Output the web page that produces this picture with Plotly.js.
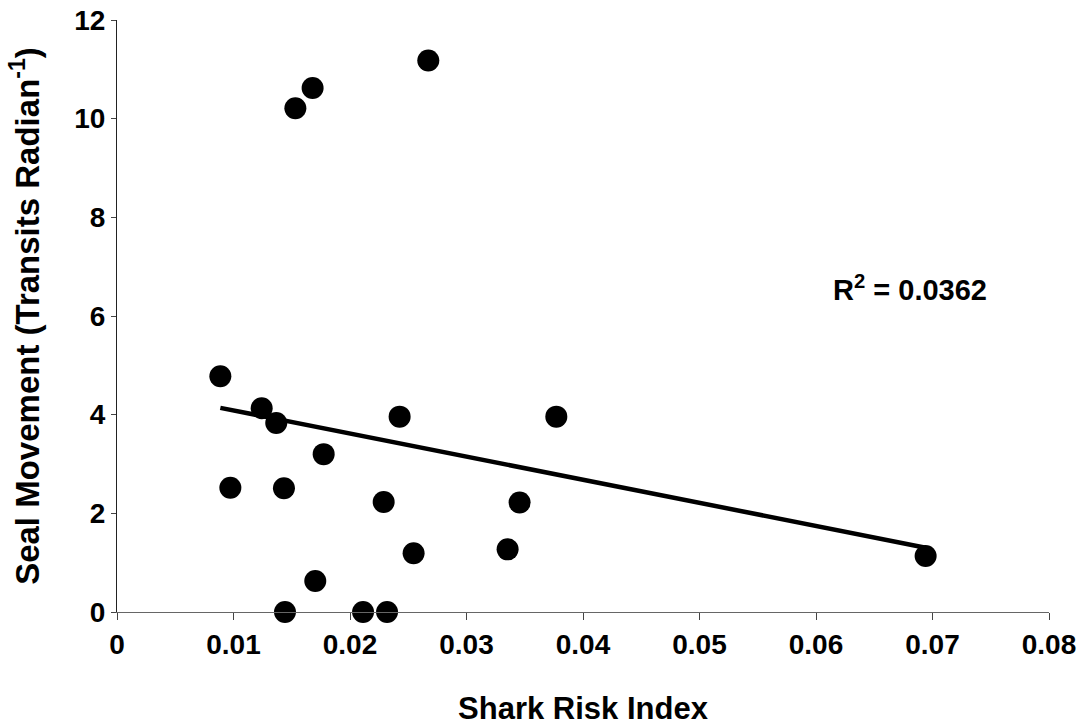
<!DOCTYPE html>
<html>
<head>
<meta charset="utf-8">
<script src="https://cdn.plot.ly/plotly-3.0.1.min.js"></script>
<style>html,body{margin:0;padding:0;background:#fff;}#chart{width:1088px;height:728px;}</style>
</head>
<body>
<div id="chart"></div>
<script>
// Shark Risk Index (x) vs Seal Movement (y)
const sharkRisk = [0.00887, 0.01242, 0.01367, 0.01774, 0.00973, 0.01433, 0.02426, 0.03771, 0.02289, 0.03456,
                   0.02546, 0.03353, 0.01702, 0.01442, 0.02112, 0.02318, 0.01531, 0.01679, 0.02672, 0.06941];
const sealMovement = [4.78, 4.13, 3.83, 3.20, 2.52, 2.51, 3.96, 3.96, 2.23, 2.22,
                      1.19, 1.27, 0.63, 0.00, 0.00, 0.00, 10.21, 10.62, 11.18, 1.135];
const xTicks = [0, 0.01, 0.02, 0.03, 0.04, 0.05, 0.06, 0.07, 0.08];
const xTickText = ['0', '0.01', '0.02', '0.03', '0.04', '0.05', '0.06', '0.07', '0.08'];
const yTicks = [0, 2, 4, 6, 8, 10, 12];
const rSquaredLabel = 'R<sup>2</sup> = 0.0362';

// least-squares linear trendline
const n = sharkRisk.length;
const mx = sharkRisk.reduce((a, b) => a + b, 0) / n;
const my = sealMovement.reduce((a, b) => a + b, 0) / n;
let sxy = 0, sxx = 0;
for (let i = 0; i < n; i++) { sxy += (sharkRisk[i] - mx) * (sealMovement[i] - my); sxx += (sharkRisk[i] - mx) ** 2; }
const slope = sxy / sxx, intercept = my - slope * mx;
const xMin = Math.min(...sharkRisk), xMax = Math.max(...sharkRisk);
const trendX = [xMin, xMax];
const trendY = trendX.map(x => intercept + slope * x);

const font = {family: 'Liberation Sans, Arial, sans-serif', color: '#000', weight: 'bold'};

const traces = [
  {x: trendX, y: trendY, mode: 'lines', type: 'scatter', line: {color: '#000', width: 4.5}, cliponaxis: false, hoverinfo: 'skip'},
  {x: sharkRisk, y: sealMovement, mode: 'markers', type: 'scatter', marker: {color: '#000', size: 22}, cliponaxis: false}
];

const layout = {
  width: 1088, height: 728,
  margin: {l: 117, r: 39, t: 20, b: 116},
  paper_bgcolor: '#fff', plot_bgcolor: '#fff',
  showlegend: false,
  font: Object.assign({}, font, {size: 28}),
  xaxis: {
    range: [0, 0.08], tickvals: xTicks, ticktext: xTickText,
    showgrid: false, zeroline: false, showline: true, linecolor: '#666', linewidth: 1,
    ticks: 'outside', ticklen: 7, tickcolor: '#444', tickwidth: 1,
    tickfont: Object.assign({}, font, {size: 28}),
    title: {text: 'Shark Risk Index', font: Object.assign({}, font, {size: 31}), standoff: 38}
  },
  yaxis: {
    range: [0, 12], tickvals: yTicks,
    showgrid: false, zeroline: false, showline: true, linecolor: '#222', linewidth: 1,
    ticks: 'outside', ticklen: 5, tickcolor: '#444', tickwidth: 1,
    tickfont: Object.assign({}, font, {size: 28}),
    title: {text: 'Seal Movement (Transits Radian<sup>-1</sup>)', font: Object.assign({}, font, {size: 33}), standoff: 24}
  },
  annotations: [{
    xref: 'paper', yref: 'paper', x: (910 - 117) / 932, y: (612 - 288) / 592,
    xanchor: 'center', yanchor: 'middle', showarrow: false,
    text: rSquaredLabel, font: Object.assign({}, font, {size: 29})
  }]
};

Plotly.newPlot('chart', traces, layout, {displayModeBar: false, staticPlot: true});
</script>
</body>
</html>
